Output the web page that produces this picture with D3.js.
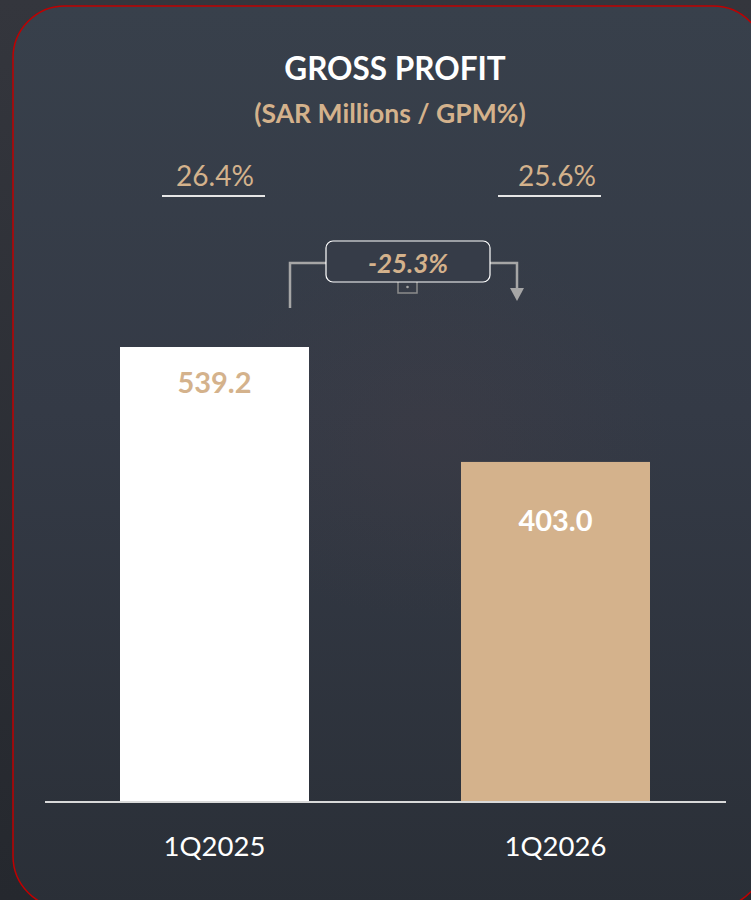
<!DOCTYPE html>
<html>
<head>
<meta charset="utf-8">
<script src="https://cdn.jsdelivr.net/npm/d3@7"></script>
<style>
  html, body { margin: 0; padding: 0; background: #2c2f36; }
  svg { display: block; }
</style>
</head>
<body>
<div id="chart"></div>
<script>
// Gross profit by quarter (SAR millions) with gross profit margin
const categories = ["1Q2025", "1Q2026"];
const grossProfit = [539.2, 403.0];
const marginLabels = ["26.4%", "25.6%"];
const changeLabel = "-25.3%";

const W = 751, H = 900;
const TAN = "#d4b28c";
const FONT = "Lato, 'Open Sans', sans-serif";

const svg = d3.select("#chart").append("svg")
  .attr("width", W).attr("height", H);

const defs = svg.append("defs");
const outerGrad = defs.append("linearGradient").attr("id", "outerBg")
  .attr("x1", 0).attr("y1", 0).attr("x2", 0).attr("y2", 1);
outerGrad.append("stop").attr("offset", "0%").attr("stop-color", "#34363d");
outerGrad.append("stop").attr("offset", "100%").attr("stop-color", "#25282e");

const panelGrad = defs.append("linearGradient").attr("id", "panelBg")
  .attr("x1", 0).attr("y1", 0).attr("x2", 0).attr("y2", 1);
panelGrad.append("stop").attr("offset", "0%").attr("stop-color", "#38404b");
panelGrad.append("stop").attr("offset", "45%").attr("stop-color", "#343a46");
panelGrad.append("stop").attr("offset", "100%").attr("stop-color", "#2a2f37");

const glow = defs.append("radialGradient").attr("id", "glow");
glow.append("stop").attr("offset", "0%").attr("stop-color", "#4a3e44").attr("stop-opacity", 0.25);
glow.append("stop").attr("offset", "100%").attr("stop-color", "#4a3e44").attr("stop-opacity", 0);

// backdrop and rounded panel
svg.append("rect").attr("width", W).attr("height", H).attr("fill", "url(#outerBg)");
svg.append("rect")
  .attr("x", 13).attr("y", 6).attr("width", 752).attr("height", 902)
  .attr("rx", 52).attr("ry", 52)
  .attr("fill", "url(#panelBg)")
  .attr("stroke", "#c00000").attr("stroke-width", 1.5);
svg.append("ellipse").attr("cx", 430).attr("cy", 430).attr("rx", 240).attr("ry", 190)
  .attr("fill", "url(#glow)");

// scales
const baseY = 802;
const barLeft = [120, 461];
const bw = 189;
const x = d3.scaleOrdinal().domain(categories).range(barLeft);
const y = d3.scaleLinear().domain([0, 539.2]).range([baseY, 347]);

const barFill = ["#ffffff", TAN];
const labelFill = [TAN, "#ffffff"];
const labelOffset = [46, 69];

const cx = d => x(d) + bw / 2;

const g = svg.append("g");
g.selectAll("rect.bar").data(categories).join("rect")
  .attr("class", "bar")
  .attr("x", d => x(d))
  .attr("y", (d, i) => y(grossProfit[i]))
  .attr("width", bw)
  .attr("height", (d, i) => baseY - y(grossProfit[i]))
  .attr("fill", (d, i) => barFill[i]);

// value labels inside bars
g.selectAll("text.val").data(grossProfit).join("text")
  .attr("class", "val")
  .attr("x", (d, i) => cx(categories[i]))
  .attr("y", (d, i) => y(d) + labelOffset[i])
  .attr("text-anchor", "middle")
  .attr("font-family", FONT).attr("font-weight", 700).attr("font-size", 29)
  .attr("fill", (d, i) => labelFill[i])
  .text(d => d3.format(".1f")(d));

// baseline
svg.append("line").attr("x1", 45).attr("x2", 726).attr("y1", baseY).attr("y2", baseY)
  .attr("stroke", "#d9d9d9").attr("stroke-width", 2);

// category labels
svg.selectAll("text.cat").data(categories).join("text")
  .attr("class", "cat")
  .attr("x", d => cx(d))
  .attr("y", 856)
  .attr("text-anchor", "middle")
  .attr("font-family", FONT).attr("font-size", 27.5)
  .attr("fill", "#ffffff")
  .text(d => d);

// titles
svg.append("text").attr("x", 395).attr("y", 80).attr("text-anchor", "middle")
  .attr("font-family", FONT).attr("font-weight", 700).attr("font-size", 31.5)
  .attr("fill", "#ffffff").text("GROSS PROFIT");
svg.append("text").attr("x", 390).attr("y", 123).attr("text-anchor", "middle")
  .attr("font-family", FONT).attr("font-weight", 700).attr("font-size", 26.5)
  .attr("fill", TAN).text("(SAR Millions / GPM%)");

// margin labels with underlines
const marginCx = [215, 557];
const underlineCx = [213.5, 549.5];
const mg = svg.selectAll("g.margin").data(marginLabels).join("g").attr("class", "margin");
mg.append("text")
  .attr("x", (d, i) => marginCx[i]).attr("y", 186)
  .attr("text-anchor", "middle")
  .attr("font-family", FONT).attr("font-size", 28)
  .attr("fill", TAN).text(d => d);
mg.append("line")
  .attr("x1", (d, i) => underlineCx[i] - 51.5).attr("x2", (d, i) => underlineCx[i] + 51.5)
  .attr("y1", 196).attr("y2", 196)
  .attr("stroke", "#e6e6e6").attr("stroke-width", 2);

// change connector
const conn = svg.append("g").attr("stroke", "#a6a6a6").attr("stroke-width", 2.5).attr("fill", "none");
conn.append("path").attr("d", "M290,308 V263 H326");
conn.append("path").attr("d", "M490,263 H517 V290");
svg.append("path").attr("d", "M510,288 L524,288 L517,301 Z").attr("fill", "#a6a6a6");
svg.append("rect").attr("x", 398).attr("y", 280).attr("width", 19).attr("height", 13)
  .attr("fill", "none").attr("stroke", "#8c8c8c").attr("stroke-width", 1.5);
svg.append("circle").attr("cx", 407.5).attr("cy", 287).attr("r", 1.3).attr("fill", "#a6a6a6");
svg.append("rect").attr("x", 326).attr("y", 241).attr("width", 164).attr("height", 41)
  .attr("rx", 7).attr("fill", "#363c48").attr("stroke", "#ffffff").attr("stroke-width", 1.2);
svg.append("text").attr("x", 408).attr("y", 273).attr("text-anchor", "middle")
  .attr("font-family", FONT).attr("font-weight", 700).attr("font-style", "italic").attr("font-size", 26)
  .attr("fill", TAN).text(changeLabel);
</script>
</body>
</html>
